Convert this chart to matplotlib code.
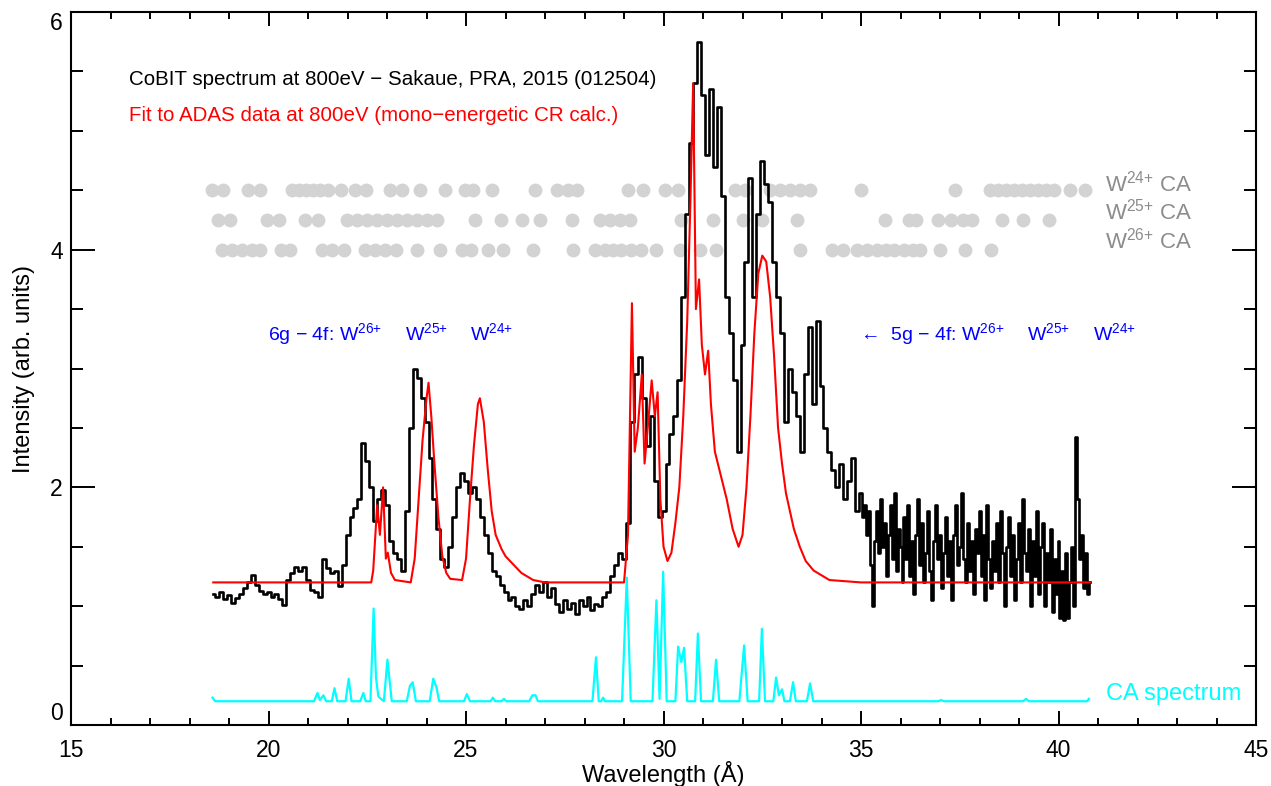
import numpy as np
import matplotlib
matplotlib.use("Agg")
import matplotlib.pyplot as plt
from matplotlib.ticker import MultipleLocator

plt.rcParams['font.family'] = ['Liberation Sans', 'DejaVu Sans']
plt.rcParams['mathtext.fontset'] = 'custom'
plt.rcParams['mathtext.rm'] = 'Liberation Sans'
plt.rcParams['mathtext.it'] = 'Liberation Sans:italic'
plt.rcParams['mathtext.bf'] = 'Liberation Sans:bold'

# CoBIT measured spectrum, read off the figure
# part 1: 18.6 - 34.9 A at 0.1 A
cobit_main = [
    1.10, 1.08, 1.12, 1.06, 1.09, 1.03, 1.07, 1.10, 1.15, 1.20,   # 18.6 - 19.5
    1.26, 1.18, 1.13, 1.10, 1.12, 1.08, 1.10, 1.06, 1.01, 1.22,   # 19.6 - 20.5
    1.28, 1.33, 1.30, 1.33, 1.22, 1.14, 1.12, 1.08, 1.40, 1.32,   # 20.6 - 21.5
    1.28, 1.30, 1.17, 1.35, 1.60, 1.75, 1.83, 1.90, 2.37, 2.22,   # 21.6 - 22.5
    2.00, 1.72, 1.90, 1.98, 1.85, 1.55, 1.45, 1.40, 1.30, 1.80,   # 22.6 - 23.5
    2.50, 3.00, 2.92, 2.75, 2.55, 2.25, 1.90, 1.65, 1.40, 1.33,   # 23.6 - 24.5
    1.50, 1.75, 2.00, 2.12, 2.05, 1.95, 2.00, 1.90, 1.75, 1.60,   # 24.6 - 25.5
    1.45, 1.30, 1.25, 1.18, 1.12, 1.05, 1.08, 1.00, 0.98, 1.05,   # 25.6 - 26.5
    1.00, 1.10, 1.18, 1.12, 1.20, 1.08, 1.15, 1.02, 0.95, 1.05,   # 26.6 - 27.5
    0.98, 1.03, 0.93, 1.05, 1.00, 1.08, 0.97, 1.02, 1.00, 1.08,   # 27.6 - 28.5
    1.12, 1.25, 1.35, 1.45, 1.40, 1.70, 2.55, 2.95, 3.10, 2.75,   # 28.6 - 29.5
    2.35, 2.60, 2.05, 1.75, 1.80, 2.20, 2.45, 2.60, 2.90, 3.60,   # 29.6 - 30.5
    4.30, 4.90, 5.40, 5.75, 5.30, 4.80, 5.35, 4.70, 5.20, 4.45,   # 30.6 - 31.5
    3.60, 3.30, 2.90, 2.30, 3.20, 3.90, 4.60, 3.60, 4.30, 4.75,   # 31.6 - 32.5
    4.55, 4.40, 3.90, 3.60, 3.30, 2.55, 3.00, 2.80, 2.60, 2.30,   # 32.6 - 33.5
    2.95, 3.35, 2.70, 3.40, 2.85, 2.50, 2.30, 2.15, 2.00, 2.20,   # 33.6 - 34.5
    1.90, 2.05, 2.25, 1.80,                                       # 34.6 - 34.9
]
# part 2: noisy tail 35.0 - 40.8 A at 0.05 A
cobit_tail = [
    1.95, 1.75, 1.85, 1.60, 1.80, 1.35, 1.00, 1.55, 1.80, 1.45,   # 35.00 - 35.45
    1.90, 1.50, 1.70, 1.25, 1.60, 1.85, 1.40, 1.95, 1.30, 1.65,   # 35.50 - 35.95
    1.50, 1.20, 1.75, 1.40, 1.85, 1.25, 1.55, 1.10, 1.60, 1.90,   # 36.00 - 36.45
    1.35, 1.70, 1.20, 1.45, 1.80, 1.30, 1.05, 1.55, 1.85, 1.40,   # 36.50 - 36.95
    1.60, 1.15, 1.45, 1.75, 1.25, 1.55, 1.05, 1.60, 1.85, 1.35,   # 37.00 - 37.45
    1.50, 1.95, 1.40, 1.20, 1.70, 1.30, 1.55, 1.10, 1.65, 1.45,   # 37.50 - 37.95
    1.80, 1.25, 1.60, 1.05, 1.85, 1.40, 1.15, 1.55, 1.30, 1.70,   # 38.00 - 38.45
    1.20, 1.80, 1.45, 1.00, 1.50, 1.75, 1.25, 1.60, 1.05, 1.40,   # 38.50 - 38.95
    1.70, 1.20, 1.90, 1.45, 1.30, 1.65, 1.00, 1.55, 1.25, 1.80,   # 39.00 - 39.45
    1.10, 1.50, 1.70, 1.00, 1.45, 1.20, 1.65, 0.95, 1.40, 1.10,   # 39.50 - 39.95
    1.55, 0.90, 1.30, 0.88, 1.45, 0.90, 1.20, 1.50, 1.00, 2.42,   # 40.00 - 40.45
    1.90, 1.40, 1.60, 1.15, 1.45, 1.10, 1.20,                     # 40.50 - 40.80
]
cobit_wl = np.concatenate([18.6 + 0.1 * np.arange(len(cobit_main)),
                           35.0 + 0.05 * np.arange(len(cobit_tail))])
cobit_int = np.array(cobit_main + cobit_tail)

# ADAS fit (red)
adas_wl = [18.6, 22.6, 22.65, 22.75, 22.82, 22.9, 22.97, 23.02, 23.1, 23.2,
           23.6, 23.7, 23.8, 23.9, 24.0, 24.05, 24.12, 24.2, 24.3, 24.4,
           24.5, 24.6, 24.9, 25.0, 25.1, 25.2, 25.3, 25.35, 25.45, 25.55,
           25.65, 25.75, 25.9, 26.0, 26.2, 26.4, 26.7, 27.0, 29.0, 29.1,
           29.2, 29.27, 29.35, 29.45, 29.52, 29.6, 29.7, 29.78, 29.85, 29.92,
           30.0, 30.1, 30.2, 30.3, 30.4, 30.5, 30.6, 30.68, 30.75, 30.82,
           30.9, 30.97, 31.05, 31.13, 31.2, 31.3, 31.45, 31.6, 31.75, 31.9,
           32.0, 32.1, 32.2, 32.3, 32.4, 32.5, 32.6, 32.7, 32.8, 32.9,
           33.0, 33.1, 33.2, 33.3, 33.45, 33.6, 33.8, 34.2, 35.0, 40.8]
adas_int = [1.2, 1.2, 1.3, 1.85, 1.6, 2.0, 1.4, 1.45, 1.28, 1.22,
            1.2, 1.4, 1.9, 2.4, 2.75, 2.88, 2.6, 2.2, 1.75, 1.42,
            1.28, 1.23, 1.22, 1.4, 1.9, 2.35, 2.7, 2.75, 2.55, 2.15,
            1.8, 1.6, 1.48, 1.42, 1.35, 1.28, 1.22, 1.2, 1.2, 1.6,
            3.55, 2.3, 2.5, 2.95, 2.2, 2.5, 2.9, 2.6, 2.8, 1.9,
            1.5, 1.38, 1.45, 1.7, 2.0, 2.6, 3.4, 4.4, 5.4, 3.5,
            3.75, 3.2, 2.95, 3.15, 2.7, 2.3, 2.1, 1.9, 1.65, 1.5,
            1.6, 2.0, 2.6, 3.3, 3.8, 3.95, 3.9, 3.6, 3.1, 2.5,
            2.2, 1.95, 1.8, 1.65, 1.5, 1.38, 1.3, 1.22, 1.2, 1.2]

# CA spectrum (cyan)
ca_wl = [18.58, 18.65, 21.15, 21.24, 21.3, 21.39, 21.46, 21.6, 21.67, 21.74,
         21.95, 22.03, 22.1, 22.32, 22.4, 22.46, 22.58, 22.66, 22.72, 22.78,
         22.92, 23.01, 23.12, 23.5, 23.58, 23.65, 23.73, 24.08, 24.17, 24.25,
         24.32, 24.95, 25.02, 25.1, 25.62, 25.68, 25.74, 25.9, 25.96, 26.02,
         26.6, 26.68, 26.76, 26.82, 28.2, 28.29, 28.36, 28.42, 28.47, 28.52,
         28.95, 29.07, 29.17, 29.72, 29.82, 29.9, 29.99, 30.08, 30.3, 30.37,
         30.45, 30.52, 30.6, 30.8, 30.87, 30.95, 31.25, 31.33, 31.41, 31.92,
         32.04, 32.13, 32.42, 32.49, 32.57, 32.78, 32.85, 32.92, 33.0, 33.06,
         33.2, 33.28, 33.35, 33.63, 33.71, 33.79, 36.95, 37.03, 37.1, 39.1,
         39.18, 39.25, 40.72, 40.77]
ca_int = [0.23, 0.2, 0.2, 0.27, 0.21, 0.25, 0.2, 0.2, 0.31, 0.2,
          0.2, 0.39, 0.2, 0.2, 0.27, 0.2, 0.2, 0.98, 0.4, 0.24,
          0.2, 0.55, 0.2, 0.2, 0.33, 0.36, 0.2, 0.2, 0.39, 0.32,
          0.2, 0.2, 0.26, 0.2, 0.2, 0.23, 0.2, 0.2, 0.22, 0.2,
          0.2, 0.25, 0.25, 0.2, 0.2, 0.57, 0.2, 0.2, 0.23, 0.2,
          0.2, 1.24, 0.2, 0.2, 1.05, 0.22, 1.29, 0.2, 0.2, 0.66,
          0.53, 0.65, 0.2, 0.2, 0.77, 0.2, 0.2, 0.55, 0.2, 0.2,
          0.67, 0.2, 0.2, 0.81, 0.2, 0.2, 0.4, 0.25, 0.3, 0.2,
          0.2, 0.36, 0.2, 0.2, 0.35, 0.2, 0.2, 0.21, 0.2, 0.2,
          0.22, 0.2, 0.2, 0.22]

# CA line positions per ion stage (grey dots)
w24_lines = [18.57, 18.85, 19.48, 19.78, 20.59, 20.77, 20.95, 21.13, 21.30, 21.51,
             21.84, 22.19, 22.47, 23.08, 23.38, 23.84, 24.47, 24.97, 25.18, 25.66,
             26.75, 27.30, 27.58, 27.81, 29.10, 29.48, 30.04, 30.37, 31.81, 32.06,
             32.70, 32.95, 33.20, 33.46, 33.71, 35.00, 37.38, 38.27, 38.47, 38.67,
             38.87, 39.08, 39.28, 39.48, 39.68, 39.89, 40.29, 40.67]
w25_lines = [18.72, 19.03, 19.96, 20.27, 20.92, 21.25, 21.99, 22.24, 22.49, 22.75,
             23.00, 23.25, 23.51, 23.76, 24.01, 24.27, 25.23, 25.89, 26.42, 26.87,
             27.68, 28.39, 28.65, 28.90, 29.15, 30.44, 31.25, 32.01, 32.49, 33.38,
             35.61, 36.22, 36.39, 36.95, 37.28, 37.58, 37.81, 38.57, 39.10, 39.76]
w26_lines = [18.82, 19.08, 19.33, 19.58, 19.78, 20.32, 20.54, 21.35, 21.61, 21.91,
             22.44, 22.70, 22.95, 23.23, 23.76, 24.34, 24.90, 25.13, 25.56, 25.94,
             26.70, 27.71, 28.27, 28.52, 28.72, 28.92, 29.18, 29.43, 29.81, 30.42,
             30.92, 31.33, 33.46, 34.27, 34.54, 34.90, 35.15, 35.41, 35.63, 35.84,
             36.09, 36.32, 36.49, 37.00, 37.63, 38.29]
row_levels = [4.5, 4.25, 4.0]
row_labels = ['W$^{24{+}}$ CA', 'W$^{25{+}}$ CA', 'W$^{26{+}}$ CA']

fig = plt.figure(figsize=(12.71, 7.86), dpi=100)
ax = fig.add_axes([0.0559, 0.0776, 0.9323, 0.9071])

# grey dots for CA line positions
for lines, lev in zip([w24_lines, w25_lines, w26_lines], row_levels):
    ax.plot(lines, [lev] * len(lines), 'o', color='#d3d3d3', markersize=10,
            markeredgewidth=0, zorder=1)

ax.plot(ca_wl, ca_int, color='cyan', lw=1.6, zorder=2)
ax.plot(cobit_wl, cobit_int, color='black', lw=1.9, drawstyle='steps-mid', zorder=3)
ax.plot(adas_wl, adas_int, color='red', lw=1.5, zorder=4)

# annotations
ax.text(16.47, 5.39, 'CoBIT spectrum at 800eV \u2212 Sakaue, PRA, 2015 (012504)',
        fontsize=14.8, color='black', va='baseline')
ax.text(16.47, 5.08, 'Fit to ADAS data at 800eV (mono\u2212energetic CR calc.)',
        fontsize=14.8, color='red', va='baseline')
for lab, yb in zip(row_labels, [4.49, 4.25, 4.01]):
    ax.text(41.18, yb, lab, fontsize=16, color='#8c8c8c', va='baseline')

blue = '#0000ff'
ax.text(19.99, 3.24, '6g \u2212 4f: W$^{26{+}}$', fontsize=14, color=blue, va='baseline')
ax.text(23.46, 3.24, 'W$^{25{+}}$', fontsize=14, color=blue, va='baseline')
ax.text(25.10, 3.24, 'W$^{24{+}}$', fontsize=14, color=blue, va='baseline')
ax.text(34.97, 3.24, '\u2190  5g \u2212 4f: W$^{26{+}}$', fontsize=14, color=blue, va='baseline')
ax.text(39.20, 3.24, 'W$^{25{+}}$', fontsize=14, color=blue, va='baseline')
ax.text(40.87, 3.24, 'W$^{24{+}}$', fontsize=14, color=blue, va='baseline')

ax.text(41.2, 0.21, 'CA spectrum', fontsize=17, color='cyan', va='baseline')

# axes styling (IDL-like)
ax.set_xlim(15, 45)
ax.set_ylim(0, 6)
ax.xaxis.set_major_locator(MultipleLocator(5))
ax.xaxis.set_minor_locator(MultipleLocator(1))
ax.yaxis.set_major_locator(MultipleLocator(2))
ax.yaxis.set_minor_locator(MultipleLocator(0.5))
ax.tick_params(axis='x', which='both', direction='in', top=True, bottom=True,
               labelsize=16.5, pad=10, width=1.4)
ax.tick_params(axis='y', which='both', direction='in', left=True, right=True,
               labelsize=16.5, pad=6, width=1.4)
ax.tick_params(axis='x', which='major', length=10)
ax.tick_params(axis='x', which='minor', length=5)
ax.tick_params(axis='y', which='major', length=17)
ax.tick_params(axis='y', which='minor', length=8.5)
for s in ax.spines.values():
    s.set_linewidth(1.5)

ax.set_xlabel('Wavelength (\u00c5)', fontsize=17, labelpad=-1)
ax.set_ylabel('Intensity (arb. units)', fontsize=17, labelpad=11)

# IDL nudges the end labels of the y axis inward
fig.canvas.draw()
for t in ax.yaxis.get_major_ticks():
    if abs(t.get_loc() - 0) < 1e-6:
        t.label1.set_va('bottom')
    elif abs(t.get_loc() - 6) < 1e-6:
        t.label1.set_va('top')

fig.savefig('out.png', dpi=100)
